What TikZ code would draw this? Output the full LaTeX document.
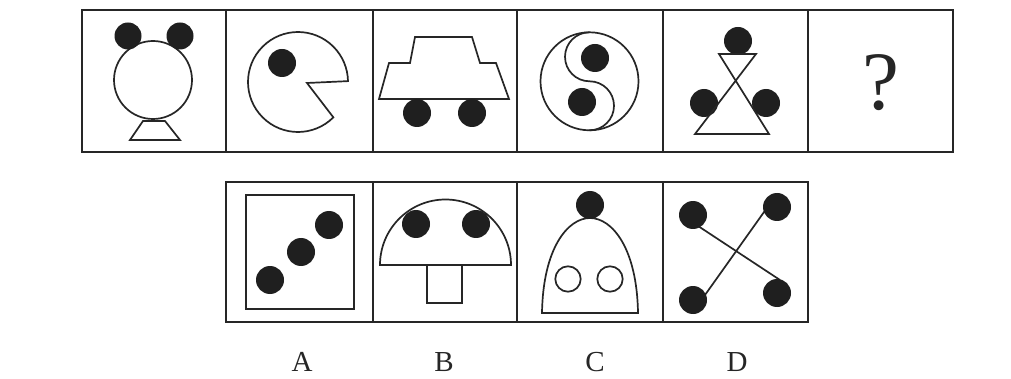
\documentclass[tikz,border=0pt]{standalone}
\usepackage{fontspec}
\setmainfont{Liberation Serif}
\begin{document}
\begin{tikzpicture}[x=1pt,y=-1pt,
  cell/.style={draw=black!85,line width=2pt},
  figline/.style={draw=black!85,line width=1.7pt,line join=miter},
  blob/.style={fill=black!88},
  lbl/.style={font=\fontsize{29}{30}\selectfont,text=black!85,inner sep=0pt}]
\path[use as bounding box,fill=white] (0,0) rectangle (1011,379);
% top row cells
\foreach \a/\b in {82/226,226/373,373/517,517/663,663/808,808/953}
  \draw[cell] (\a,10) rectangle (\b,152);
% bottom row cells
\foreach \a/\b in {226/373,373/517,517/663,663/808}
  \draw[cell] (\a,182) rectangle (\b,322);
% cell 1: bear
\draw[figline] (153,80) circle[radius=39];
\fill[blob] (128,36) circle[radius=13.5];
\fill[blob] (180,36) circle[radius=13.5];
\draw[figline] (143,121) -- (165,121) -- (180,140) -- (130,140) -- cycle;
% cell 2: pacman
\draw[figline] (307,83) -- ([shift={(298,82)}]45:50) arc[start angle=45,end angle=359,radius=50] -- cycle;
\fill[blob] (282,63) circle[radius=14];
% cell 3: car
\draw[figline] (415,37) -- (472,37) -- (480,63) -- (496,63) -- (509,99) -- (379,99) -- (389,63) -- (410,63) -- cycle;
\fill[blob] (417,113) circle[radius=14];
\fill[blob] (472,113) circle[radius=14];
% cell 4: yin-yang
\draw[figline] (589.5,81.3) circle[radius=49];
\draw[figline] (589.5,32.3) arc[start angle=270,end angle=90,radius=24.5]
  arc[start angle=270,end angle=450,radius=24.5];
\fill[blob] (595,58) circle[radius=14];
\fill[blob] (582,102) circle[radius=14];
% cell 5: hourglass
\fill[blob] (738,41) circle[radius=14];
\fill[blob] (704,103) circle[radius=14];
\fill[blob] (766,103) circle[radius=14];
\draw[figline] (719,54) -- (756,54) -- (695,134) -- (769,134) -- cycle;
% cell 6: question mark
\node[inner sep=0pt,font=\fontsize{83}{85}\selectfont,text=black!85] (q) at (881,83) {?};
% A
\draw[figline] (246,195) rectangle (354,309);
\fill[blob] (329,225) circle[radius=14];
\fill[blob] (301,252) circle[radius=14];
\fill[blob] (270,280) circle[radius=14];
% B
\draw[figline] (380,265) arc[start angle=180,end angle=360,radius=65.5] -- cycle;
\draw[figline] (427,265) rectangle (462,303);
\fill[blob] (416,224) circle[radius=14];
\fill[blob] (476,224) circle[radius=14];
% C
\draw[figline] (542,313) .. controls (543,248) and (568,218) .. (590,218)
  .. controls (612,218) and (637,248) .. (638,313) -- cycle;
\fill[blob] (590,205) circle[radius=14];
\draw[figline] (568,279) circle[radius=12.7];
\draw[figline] (610,279) circle[radius=12.7];
% D
\draw[figline] (692,222) -- (780,280);
\draw[figline] (700,302) -- (769,205);
\fill[blob] (693,215) circle[radius=14];
\fill[blob] (777,207) circle[radius=14];
\fill[blob] (693,300) circle[radius=14];
\fill[blob] (777,293) circle[radius=14];
% labels
\node[lbl] (la) at (302,362) {A};
\node[lbl] (lb) at (444,362) {B};
\node[lbl] (lc) at (595,362) {C};
\node[lbl] (ld) at (737,362) {D};
\end{tikzpicture}
\end{document}
